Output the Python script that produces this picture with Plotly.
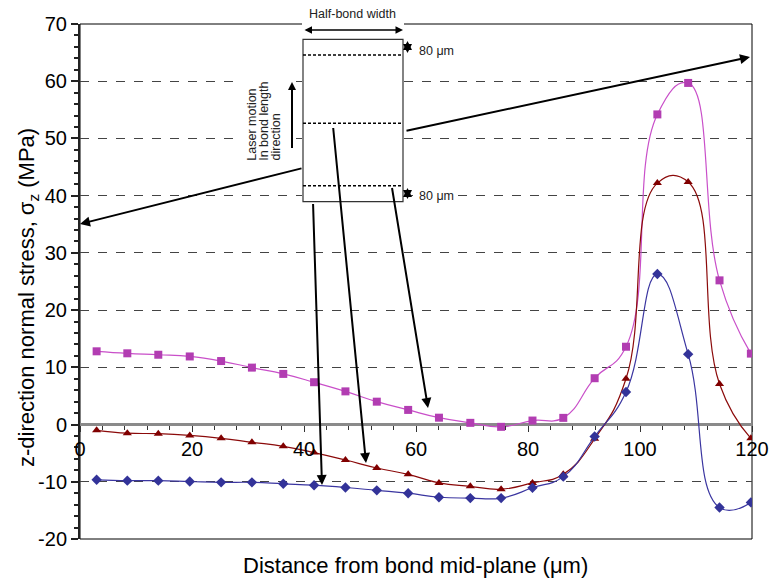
import plotly.graph_objects as go

# ---------------- data ----------------
distance_um = [2.97, 8.45, 13.98, 19.6, 25.2, 30.7, 36.3, 41.8, 47.4, 53.0, 58.6,
               64.1, 69.7, 75.2, 80.8, 86.3, 91.9, 97.5, 103.1, 108.6, 114.2, 119.8]
stress_top = [12.8, 12.45, 12.2, 11.9, 11.1, 9.95, 8.85, 7.4, 5.8, 4.0, 2.56,
              1.2, 0.3, -0.4, 0.7, 1.17, 8.1, 13.6, 54.2, 59.7, 25.2, 12.4]
stress_mid = [-1.0, -1.5, -1.6, -1.9, -2.4, -3.1, -3.8, -4.9, -6.2, -7.6, -8.7,
              -10.2, -10.8, -11.3, -10.2, -8.7, -2.5, 8.0, 42.2, 42.4, 7.1, -2.4]
stress_bot = [-9.65, -9.8, -9.8, -9.95, -10.1, -10.1, -10.35, -10.6, -11.0, -11.5, -12.0,
              -12.7, -12.85, -12.85, -11.05, -9.1, -2.1, 5.7, 26.3, 12.3, -14.5, -13.6]
x_ticks = [0, 20, 40, 60, 80, 100, 120]
y_ticks = [-20, -10, 0, 10, 20, 30, 40, 50, 60, 70]

FONT = "Liberation Sans, Arial, Helvetica, sans-serif"

# page body has an 8px margin; plot area in page pixels
BODY = 8
L, T, W, H = 80, 24, 672, 515
FIG_W, FIG_H = 777 - BODY, 579 - BODY
def dx(px):
    return (px - L) / W
def dy(py):
    return (T + H - py) / H

SMOOTH = 1.3
fig = go.Figure()
fig.add_trace(go.Scatter(x=distance_um, y=stress_top, mode="lines+markers",
                         line=dict(color="#C94FC9", width=1.2, shape="spline", smoothing=SMOOTH),
                         marker=dict(symbol="square", size=8, color="#B23DB2"),
                         showlegend=False))
fig.add_trace(go.Scatter(x=distance_um, y=stress_mid, mode="lines+markers",
                         line=dict(color="#8B0A0A", width=1.2, shape="spline", smoothing=SMOOTH),
                         marker=dict(symbol="triangle-up", size=8, color="#800000"),
                         showlegend=False))
fig.add_trace(go.Scatter(x=distance_um, y=stress_bot, mode="lines+markers",
                         line=dict(color="#3A35A0", width=1.2, shape="spline", smoothing=SMOOTH),
                         marker=dict(symbol="diamond", size=8, color="#333399"),
                         showlegend=False))
# invisible trace registering the zero-crossing x axis
fig.add_trace(go.Scatter(x=distance_um, y=stress_bot, xaxis="x2", mode="none",
                         showlegend=False, hoverinfo="skip"))

shapes = [
    dict(type="rect", xref="paper", yref="paper", x0=0, x1=1, y0=0, y1=1,
         line=dict(color="black", width=1), layer="between"),
    dict(type="rect", xref="paper", yref="paper", x0=dx(302), x1=dx(404), y0=dy(202), y1=dy(18),
         line=dict(width=0), fillcolor="white", layer="above"),
    dict(type="rect", xref="paper", yref="paper", x0=dx(237), x1=dx(289), y0=dy(172), y1=dy(68),
         line=dict(width=0), fillcolor="white", layer="above"),
    dict(type="rect", xref="paper", yref="paper", x0=dx(303), x1=dx(403), y0=dy(201.7), y1=dy(39.3),
         line=dict(color="#333333", width=1.2), layer="above"),
]
for py in (55, 123.3, 185.7):
    shapes.append(dict(type="line", xref="paper", yref="paper", x0=dx(303), x1=dx(403),
                       y0=dy(py), y1=dy(py), line=dict(color="black", width=1.5, dash="3px,2px"),
                       layer="above"))

def arrow(hx, hy, tx, ty, width=2, size=1, head=2, both=False):
    d = dict(x=dx(hx), y=dy(hy), ax=dx(tx), ay=dy(ty),
             xref="x domain", yref="y domain", axref="x domain", ayref="y domain",
             showarrow=True, arrowhead=head, arrowsize=size, arrowwidth=width,
             arrowcolor="black", text=" ", font=dict(size=1), standoff=0, startstandoff=0)
    if both:
        d["arrowside"] = "end+start"
        d["startarrowhead"] = head
        d["startarrowsize"] = size
    return d

SMALL = 12.5
annotations = [
    arrow(80, 224, 303, 168),
    arrow(750, 57, 405, 131),
    arrow(322, 485, 313, 202),
    arrow(366, 463, 333, 126),
    arrow(428, 408, 391.7, 186),
    arrow(292, 82, 292, 150, width=2, size=0.8),
    arrow(403, 30, 303, 30, width=1.5, size=1, both=True),
    arrow(407.5, 41, 407.5, 55, width=1.8, size=1.0, both=True),
    arrow(407.5, 188, 407.5, 201, width=1.8, size=1.0, both=True),
    dict(text="Half-bond width", x=dx(352), y=dy(14), xref="paper", yref="paper",
         xanchor="center", yanchor="middle",
         showarrow=False, font=dict(size=SMALL, family=FONT, color="#222")),
    dict(text="80 \u03bcm", x=dx(417), y=dy(51), xref="paper", yref="paper",
         xanchor="left", yanchor="middle",
         showarrow=False, font=dict(size=SMALL, family=FONT, color="#222")),
    dict(text="80 \u03bcm", x=dx(417), y=dy(196.5), xref="paper", yref="paper",
         xanchor="left", yanchor="middle",
         showarrow=False, bgcolor="white", font=dict(size=SMALL, family=FONT, color="#222")),
    dict(text="z-direction normal stress, \u03c3<sub>z</sub> (MPa)", x=dx(28), y=dy(298),
         xref="paper", yref="paper", xanchor="center", yanchor="middle",
         textangle=-90, showarrow=False,
         font=dict(size=22, family=FONT, color="black")),
    dict(text="Distance from bond mid-plane (\u03bcm)", x=dx(415), y=dy(565),
         xref="paper", yref="paper", xanchor="center", yanchor="middle", showarrow=False,
         font=dict(size=22, family=FONT, color="black")),
]
for txt, px in (("Laser motion", 251.7), ("In bond length", 263.3), ("direction", 275)):
    annotations.append(dict(text=txt, x=dx(px), y=dy(163), xref="paper", yref="paper",
                            xanchor="center", yanchor="bottom", textangle=-90, showarrow=False,
                            font=dict(size=SMALL, family=FONT, color="#222")))

fig.update_layout(
    width=FIG_W, height=FIG_H,
    margin=dict(l=L - BODY, r=FIG_W - (L - BODY) - W, t=T - BODY,
                b=FIG_H - (T - BODY) - H, autoexpand=False),
    paper_bgcolor="white", plot_bgcolor="white",
    font=dict(family=FONT, color="black"),
    xaxis=dict(range=[0, 120], showticklabels=False, ticks="", showgrid=False,
               zeroline=False, showline=False, fixedrange=True),
    xaxis2=dict(range=[0, 120], overlaying="x", anchor="free",
                position=(0 - (-20)) / 90, side="bottom",
                tickvals=x_ticks, ticktext=[str(v) for v in x_ticks],
                ticks="outside", ticklen=6, tickwidth=1.2, tickcolor="#333",
                minor=dict(dtick=4, ticks="outside", ticklen=4, tickcolor="#333"),
                showgrid=False, zeroline=False, showline=False,
                tickfont=dict(size=20, family=FONT, color="black")),
    yaxis=dict(range=[-20, 70], tickvals=y_ticks, ticktext=[str(v) for v in y_ticks],
               ticks="outside", ticklen=7, tickwidth=1.5, tickcolor="#222",
               minor=dict(dtick=2, ticks="outside", ticklen=4, tickcolor="#222", showgrid=False),
               showline=True, linecolor="#222", linewidth=2,
               showgrid=True, gridcolor="#444", gridwidth=1, griddash="dash",
               zeroline=True, zerolinecolor="#8a8a8a", zerolinewidth=2.5,
               tickfont=dict(size=20, family=FONT, color="black")),
    shapes=shapes,
    annotations=annotations,
)

fig.write_html("out.html")
